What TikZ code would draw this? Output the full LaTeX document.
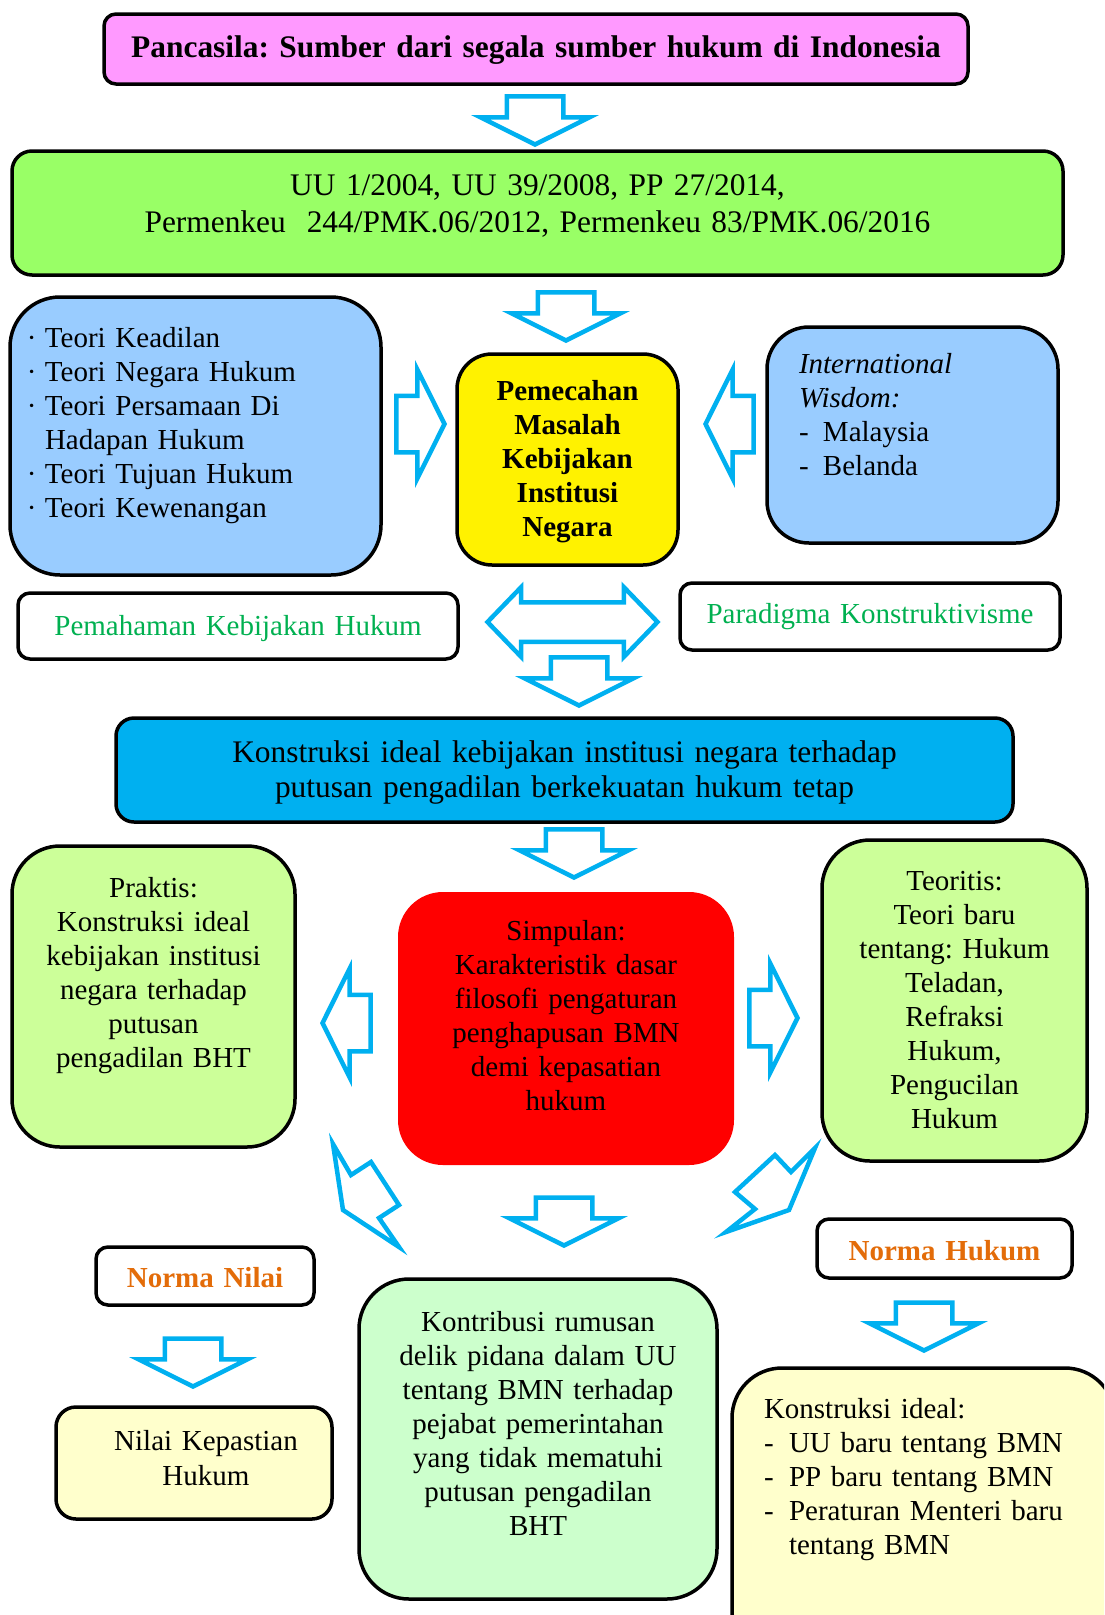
\documentclass[tikz,border=0pt]{standalone}
\usepackage{fontspec}
\setmainfont{Liberation Serif}
\usetikzlibrary{shapes,arrows}
\usepackage{xcolor}
\definecolor{pancapink}{RGB}{255,153,255}
\definecolor{lawgreen}{RGB}{153,255,102}
\definecolor{theoryblue}{RGB}{153,204,255}
\definecolor{idealcyan}{RGB}{0,176,240}
\definecolor{resultlime}{RGB}{204,255,153}
\definecolor{contribmint}{RGB}{204,255,204}
\definecolor{normcream}{RGB}{255,255,204}
\definecolor{flowblue}{RGB}{0,176,240}
\definecolor{labelgreen}{RGB}{0,176,80}
\definecolor{normorange}{RGB}{227,108,9}
\newcommand{\titik}{\makebox[18pt][l]{·}}
\newcommand{\strip}{\makebox[25pt][l]{-}}
\frenchspacing

\begin{document}
\begin{tikzpicture}[
    x=1pt, y=-1pt,
    box/.style={draw, line width=3.5pt, rounded corners=#1, anchor=base, inner xsep=0pt, inner ysep=0pt, align=center, font=\fontsize{29}{34}\selectfont},
    box/.default=12pt,
    labelbox/.style={box=12pt, text=labelgreen},
    normbox/.style={box=12pt, text=normorange, font=\fontsize{29}{34}\selectfont\bfseries},
    flow/.style={single arrow, draw=flowblue, line width=4.5pt, inner xsep=0pt, inner ysep=26pt, minimum width=104pt, minimum height=48pt, single arrow head extend=26pt, single arrow tip angle=127, anchor=tip},
    swap/.style={double arrow, draw=flowblue, line width=4.5pt, inner xsep=0pt, inner ysep=17.5pt, minimum width=65pt, minimum height=170pt, double arrow head extend=15pt, double arrow tip angle=92},
    bent/.style={draw=flowblue, line width=4.5pt}
]
\useasboundingbox (0,0) rectangle (1104,1615);
\clip (0,0) rectangle (1104,1615);

% Legal basis
\node[box=12pt, fill=pancapink, font=\fontsize{31.4}{37}\selectfont\bfseries, text width=864pt, text height=43pt, text depth=27pt] (pancasila) at (536,57) {Pancasila: Sumber dari segala sumber hukum di Indonesia};
\node[box=20pt, fill=lawgreen, font=\fontsize{31.4}{37}\selectfont, text width=1051pt, text height=44pt, text depth=80pt] (regulasi) at (537.5,195) {UU 1/2004, UU 39/2008, PP 27/2014,\\Permenkeu~~244/PMK.06/2012, Permenkeu 83/PMK.06/2016};

% Theories, problem and comparison
\node[box=50pt, fill=theoryblue, align=left, inner xsep=17pt, text width=337pt, text height=50pt, text depth=228pt] (teori) at (195.5,347) {\titik Teori Keadilan\\\titik Teori Negara Hukum\\\titik Teori Persamaan Di\\\hspace*{18pt}Hadapan Hukum\\\titik Teori Tujuan Hukum\\\titik Teori Kewenangan};
\node[box=35pt, fill=yellow, font=\fontsize{29}{34}\selectfont\bfseries, text width=221pt, text height=46pt, text depth=165pt] (pemecahan) at (567.5,400) {Pemecahan\\Masalah\\Kebijakan\\Institusi\\Negara};
\node[box=42pt, fill=theoryblue, align=left, inner xsep=32pt, text width=227pt, text height=46pt, text depth=170pt] (wisdom) at (912.5,373) {\textit{International}\\\textit{Wisdom:}\\\makebox[24pt][l]{-}Malaysia\\\makebox[24pt][l]{-}Belanda};

% Approach
\node[labelbox, text width=440pt, text height=42pt, text depth=24pt] (pemahaman) at (238,635) {Pemahaman Kebijakan Hukum};
\node[labelbox, text width=380pt, text height=40pt, text depth=27pt] (paradigma) at (870,623) {Paradigma Konstruktivisme};

% Ideal construction and results
\node[box=18pt, fill=idealcyan, font=\fontsize{31.4}{35}\selectfont, text width=897pt, text height=44pt, text depth=60pt] (konstruksi) at (564.5,762) {Konstruksi ideal kebijakan institusi negara terhadap\\putusan pengadilan berkekuatan hukum tetap};
\node[box=48pt, fill=resultlime, text width=283pt, text height=51pt, text depth=250pt] (praktis) at (153.5,897) {Praktis:\\Konstruksi ideal\\kebijakan institusi\\negara terhadap\\putusan\\pengadilan BHT};
\node[box=45pt, draw=none, fill=red, text width=336pt, text height=48pt, text depth=225pt] (simpulan) at (566,940) {Simpulan:\\Karakteristik dasar\\filosofi pengaturan\\penghapusan BMN\\demi kepasatian\\hukum};
\node[box=48pt, fill=resultlime, text width=265pt, text height=50pt, text depth=271pt] (teoritis) at (954.5,890) {Teoritis:\\Teori baru\\tentang: Hukum\\Teladan,\\Refraksi\\Hukum,\\Pengucilan\\Hukum};

% Norms
\node[normbox, text width=218pt, text height=40pt, text depth=18pt] (normanilai) at (205,1287) {Norma Nilai};
\node[normbox, text width=255pt, text height=41pt, text depth=18pt] (normahukum) at (944.5,1260) {Norma Hukum};
\node[box=20pt, fill=normcream, font=\fontsize{29}{35}\selectfont, text width=276pt, text height=43pt, text depth=69pt] (kepastian) at (194,1450) {\hspace*{24pt}Nilai Kepastian\\\hspace*{24pt}Hukum};
\node[box=50pt, fill=contribmint, text width=358pt, text height=52pt, text depth=268pt] (kontribusi) at (538,1331) {Kontribusi rumusan\\delik pidana dalam UU\\tentang BMN terhadap\\pejabat pemerintahan\\yang tidak mematuhi\\putusan pengadilan\\BHT};
\node[box=50pt, fill=normcream, align=left, inner xsep=32pt, text width=319pt, text height=50pt, text depth=242pt] (idealbaru) at (923.5,1418) {Konstruksi ideal:\\\strip UU baru tentang BMN\\\strip PP baru tentang BMN\\\strip Peraturan Menteri baru\\\hspace*{25pt}tentang BMN};

% Block arrows
\node[flow, rotate=-90] (arr1) at (535,147) {};
\node[flow, rotate=-90] (arr2) at (566,343) {};
\node[flow] (arrteori) at (447,424) {};
\node[flow, rotate=180] (arrwisdom) at (703,424) {};
\node[swap] (tukar) at (572.5,622) {};
\node[flow, rotate=-90] (arr3) at (579,708) {};
\node[flow, rotate=-90] (arr4) at (574,880) {};
\node[flow, rotate=180] (arrpraktis) at (320,1023) {};
\node[flow] (arrteoritis) at (800,1018) {};
\node[flow, rotate=-90] (arr5) at (564,1248) {};
\node[flow, rotate=-90] (arrnilai) at (193,1389) {};
\node[flow, rotate=-90] (arrhukum) at (924,1353) {};
\draw[bent] (333,1144) -- (351,1175) -- (371,1162) -- (399,1205) -- (379,1218) -- (399,1247) -- (343,1210) -- cycle;
\draw[bent] (815,1148) -- (791,1172) -- (775,1155) -- (735,1192) -- (755,1209) -- (726,1232) -- (789,1210) -- cycle;

\end{tikzpicture}
\end{document}
